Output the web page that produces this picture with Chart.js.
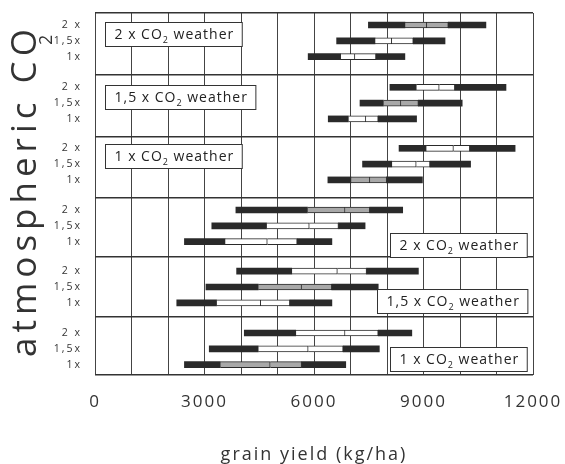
<!DOCTYPE html>
<html><head><meta charset="utf-8">
<script src="https://cdn.jsdelivr.net/npm/chart.js@4"></script>
<style>html,body{margin:0;padding:0;background:#fff}#wrap{width:565px;height:464px}</style>
</head><body><div id="wrap"><canvas id="c" width="565" height="464"></canvas></div>
<script>
// ---- data ----
const weatherLabels = ['2 x CO₂ weather','1,5 x CO₂ weather','1 x CO₂ weather','2 x CO₂ weather','1,5 x CO₂ weather','1 x CO₂ weather'];
const co2Labels = ['2 x','1,5x','1x'];
const xTickValues = [0,3000,6000,9000,12000];
const xTickLabels = ['0','3000','6000','9000','12000'];
// rows top to bottom: panel 1 (2x, 1,5x, 1x), panel 2, ... panel 6
const minVals = [7490,6620,5840, 8080,7260,6390, 8330,7330,6380, 3860,3200,2450, 3880,3040,2240, 4090,3130,2450];
const q1Vals  = [8490,7670,6730, 8800,7900,6940, 9070,8130,7010, 5820,4700,3560, 5390,4470,3330, 5500,4470,3430];
const medVals = [9090,8130,7120, 9430,8380,7420, 9820,8800,7530, 6850,5870,4720, 6640,5660,4540, 6850,5840,4800];
const q3Vals  = [9680,8720,7700, 9860,8860,7760, 10270,9180,7990, 7530,6670,5540, 7440,6490,5340, 7760,6800,5660];
const maxVals = [10710,9590,8490, 11260,10060,8810, 11510,10290,8970, 8430,7400,6490, 8860,7760,6490, 8680,7790,6870];

// ---- layout (vertical scale units) ----
const panelEdges = [0, 62, 123.7, 185, 243.7, 303.7, 362];
const rowStart = [12, 12.3, 11.6, 12, 14.5, 16.3];
const rowGap = 15.8;
const boxCenter = [0.34, 0.36, 0.32, 0.80, 0.74, 0.72]; // fraction of panel
const BLACK = '#2a2a2a', GREY = '#a8a8a8';

const rows = [];
for (let p = 0; p < 6; p++) for (let r = 0; r < 3; r++)
  rows.push({p, r, y: panelEdges[p] + rowStart[p] + r * rowGap});

const isMatched = i => rows[i].r === rows[i].p % 3;
const whiskerL = rows.map((o,i) => ({x:[minVals[i], q1Vals[i]], y:o.y}));
const boxLo    = rows.map((o,i) => ({x:[q1Vals[i], medVals[i]], y:o.y}));
const boxHi    = rows.map((o,i) => ({x:[medVals[i], q3Vals[i]], y:o.y}));
const whiskerR = rows.map((o,i) => ({x:[q3Vals[i], maxVals[i]], y:o.y}));

const yTickVals = [], yTickText = [];
panelEdges.forEach(v => { yTickVals.push(v); yTickText.push(''); });
rows.forEach(o => { yTickVals.push(o.y); yTickText.push(co2Labels[o.r]); });
const isEdge = v => panelEdges.some(e => Math.abs(e - v) < 1e-6);
const xGridVals = []; for (let v = 0; v <= 12000; v += 1000) xGridVals.push(v);

const fillFor = ctx => isMatched(ctx.dataIndex) ? GREY : '#ffffff';

const decor = {
  id: 'decor',
  beforeDraw(chart) { chart.ctx.letterSpacing = '2px'; },
  afterDatasetsDraw(chart) {
    const ctx = chart.ctx, xs = chart.scales.x, ys = chart.scales.y;
    ctx.save();
    ctx.letterSpacing = '1px';
    weatherLabels.forEach((lab, p) => {
      const parts = lab.split('₂');
      ctx.font = '14px "Open Sans"';
      const w1 = ctx.measureText(parts[0]).width;
      const w3 = ctx.measureText(parts[1]).width;
      ctx.font = '9px "Open Sans"';
      const w2 = ctx.measureText('2').width;
      const tw = w1 + w2 + w3;
      const bw = tw + 17, bh = 24;
      const cy = ys.getPixelForValue(panelEdges[p] + boxCenter[p] * (panelEdges[p+1] - panelEdges[p]));
      let left;
      if (p < 3) left = xs.getPixelForValue(270);
      else left = xs.getPixelForValue(11840) - bw;
      left = Math.round(left) + 0.5;
      const top = Math.round(cy - bh/2) + 0.5;
      ctx.fillStyle = '#fff';
      ctx.fillRect(left, top, bw, bh);
      ctx.strokeStyle = '#333'; ctx.lineWidth = 1;
      ctx.strokeRect(left, top, bw, bh);
      ctx.fillStyle = '#222';
      ctx.textAlign = 'left'; ctx.textBaseline = 'alphabetic';
      const bx = left + 9, by = cy + 5;
      ctx.font = '14px "Open Sans"';
      ctx.fillText(parts[0], bx, by);
      ctx.font = '9px "Open Sans"';
      ctx.fillText('2', bx + w1, by + 4);
      ctx.font = '14px "Open Sans"';
      ctx.fillText(parts[1], bx + w1 + w2, by);
    });
    ctx.restore();
  },
  afterDraw(chart) {
    const ctx = chart.ctx;
    ctx.save();
    ctx.translate(36, 357);
    ctx.rotate(-Math.PI/2);
    ctx.fillStyle = '#333';
    ctx.textAlign = 'left'; ctx.textBaseline = 'alphabetic';
    ctx.font = '35px "Open Sans"';
    ctx.letterSpacing = '5px';
    ctx.fillText('atmospheric CO', 0, 0);
    ctx.font = '18px "Open Sans"';
    ctx.letterSpacing = '0px';
    ctx.fillText('2', 312, 16);
    ctx.restore();
  }
};

new Chart(document.getElementById('c'), {
  type: 'bar',
  data: {
    datasets: [
      {label:'low', data: whiskerL, backgroundColor: BLACK, borderWidth: 0, barThickness: 6},
      {label:'high', data: whiskerR, backgroundColor: BLACK, borderWidth: 0, barThickness: 6},
      {label:'q1-median', data: boxLo, backgroundColor: fillFor, borderColor: BLACK, borderWidth: 1, borderSkipped: 'left', barThickness: 6},
      {label:'median-q3', data: boxHi, backgroundColor: fillFor, borderColor: BLACK, borderWidth: 1, borderSkipped: 'left', barThickness: 6}
    ]
  },
  options: {
    indexAxis: 'y',
    responsive: false,
    animation: false,
    events: [],
    datasets: { bar: { grouped: false } },
    layout: { padding: { top: 13, right: 32, left: 0, bottom: 0 } },
    plugins: { legend: { display: false }, tooltip: { enabled: false } },
    scales: {
      x: {
        type: 'linear', min: 0, max: 12000, position: 'bottom', offset: false,
        afterFit: s => { s.height = 89; s.paddingLeft = 0; s.paddingRight = 0; },
        afterBuildTicks: s => { s.ticks = xGridVals.map(v => ({value: v})); },
        ticks: {
          autoSkip: false, maxRotation: 0, padding: 17,
          font: { family: 'Open Sans', size: 17 }, color: '#333',
          callback: v => { const i = xTickValues.indexOf(v); return i < 0 ? '' : xTickLabels[i]; }
        },
        grid: { color: '#444', lineWidth: 1, drawTicks: false, offset: false },
        border: { display: false },
        title: { display: true, text: 'grain yield (kg/ha)', color: '#333',
                 font: { family: 'Open Sans', size: 18, lineHeight: 1 }, padding: { top: 0, bottom: 0 } }
      },
      y: {
        type: 'linear', min: 0, max: 362, reverse: true, position: 'left', offset: false,
        afterFit: s => { s.width = 95; s.paddingTop = 0; s.paddingBottom = 0; },
        afterBuildTicks: s => { s.ticks = yTickVals.map(v => ({value: v})); },
        ticks: {
          autoSkip: false, padding: 13,
          font: { family: 'Open Sans', size: 10.5 }, color: '#333',
          callback: (v, i) => yTickText[i]
        },
        grid: {
          offset: false,
          color: c => (c.tick && isEdge(c.tick.value)) ? '#333' : 'rgba(0,0,0,0)',
          lineWidth: c => (c.tick && isEdge(c.tick.value)) ? 1.5 : 0,
          drawTicks: false
        },
        border: { display: false }
      }
    }
  },
  plugins: [decor]
});
</script>
</body></html>
